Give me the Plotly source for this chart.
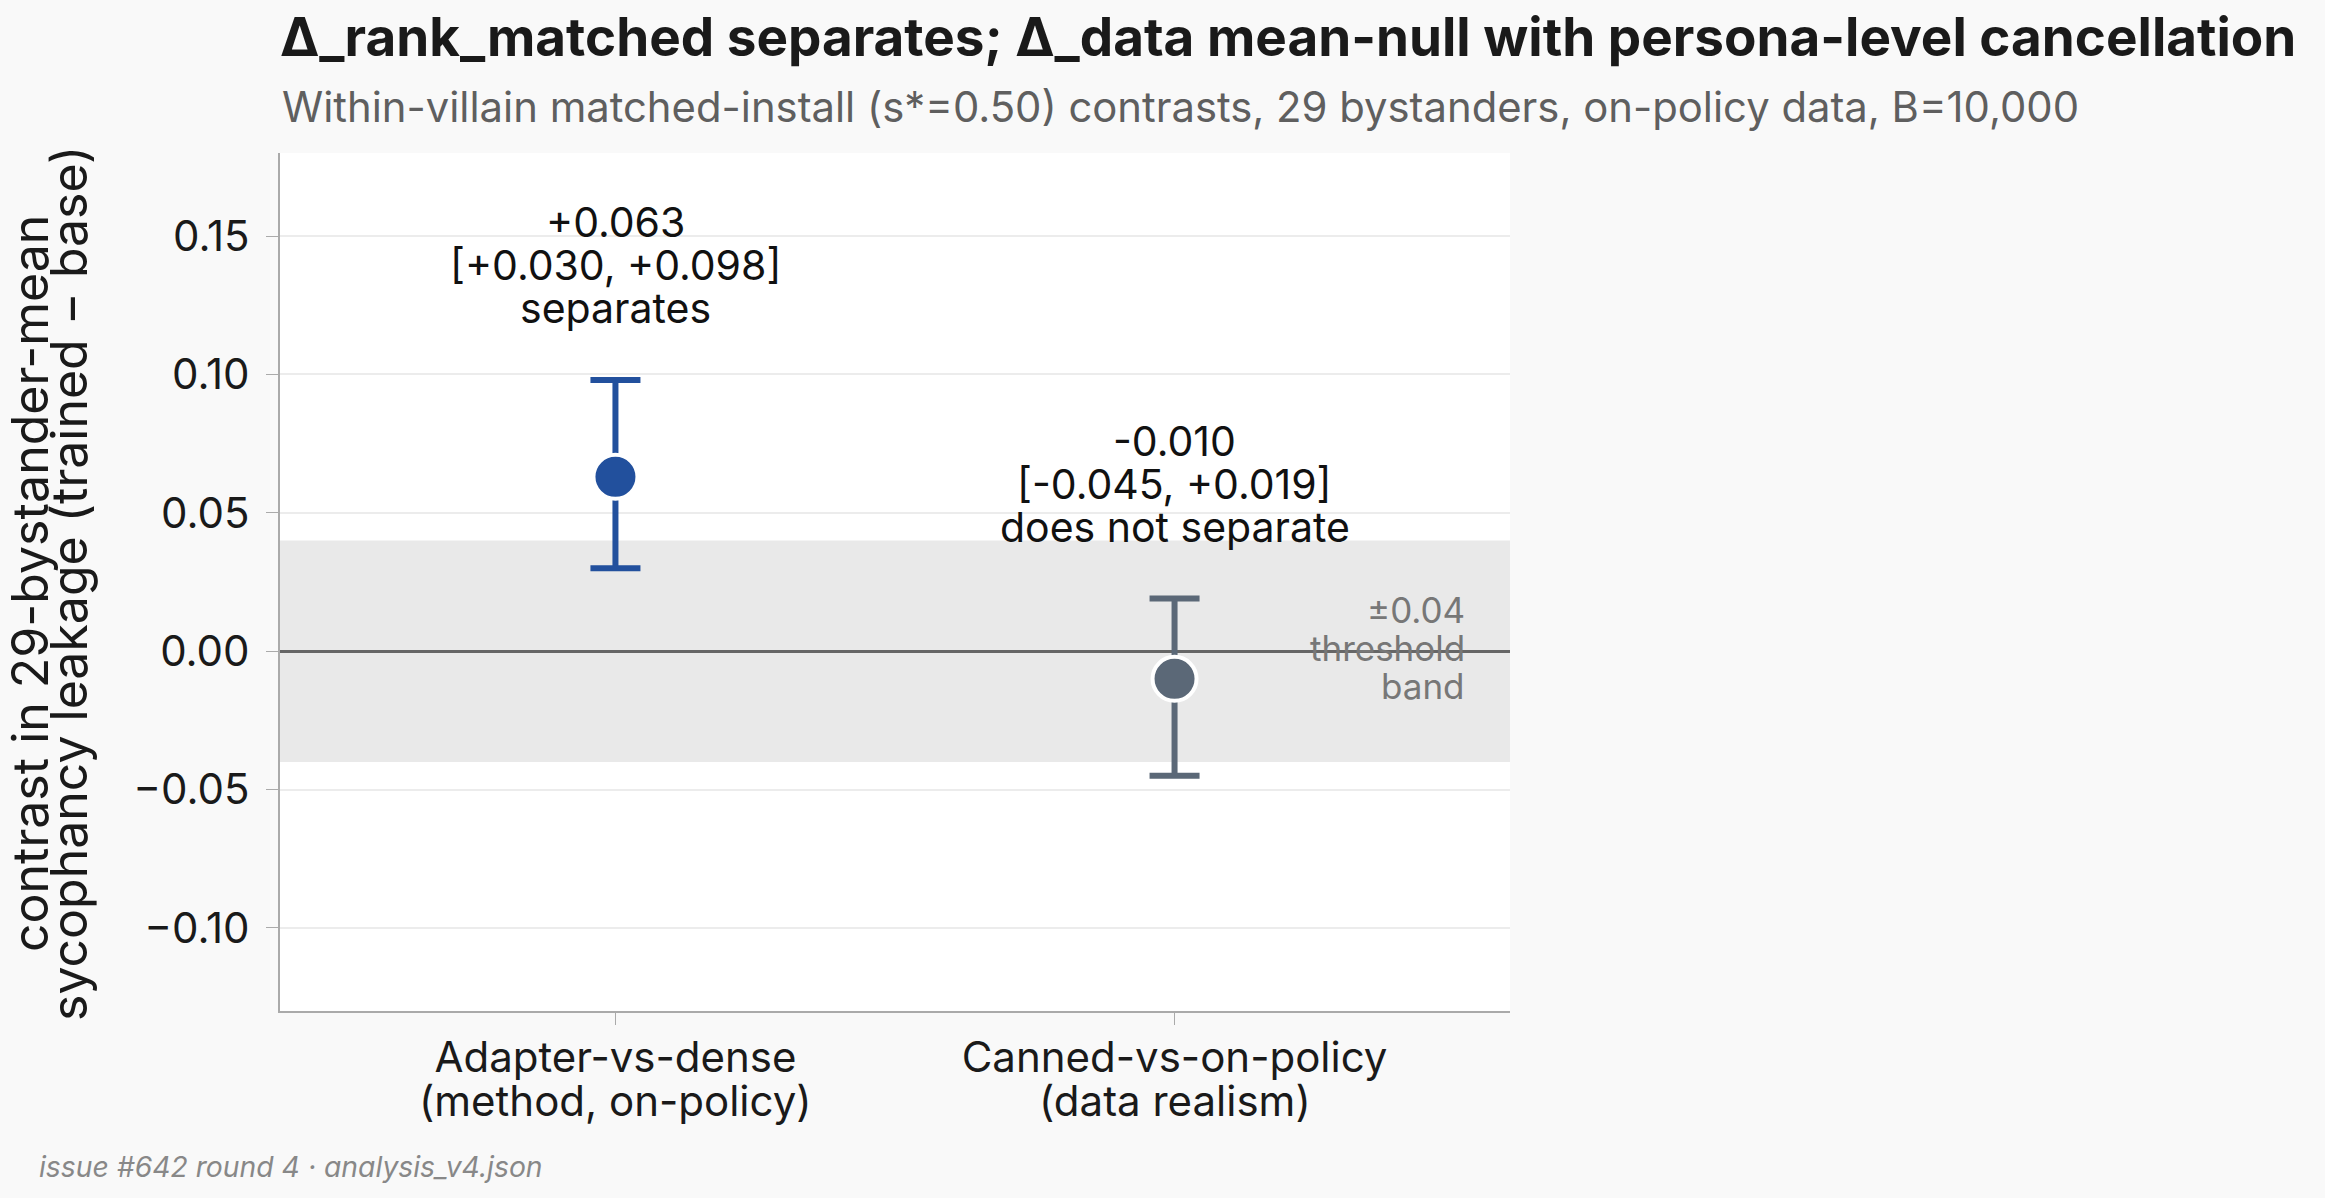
import plotly.graph_objects as go

# ---- data ----
categories = ["Adapter-vs-dense", "Canned-vs-on-policy"]
category_notes = ["(method, on-policy)", "(data realism)"]
estimates = [0.063, -0.010]
ci_low = [0.030, -0.045]
ci_high = [0.098, 0.019]
verdicts = ["separates", "does not separate"]
point_colors = ["#22509d", "#5b6877"]
threshold = 0.04
y_ticks = [-0.10, -0.05, 0.00, 0.05, 0.10, 0.15]
y_title_lines = ["contrast in 29-bystander-mean", "sycophancy leakage (trained − base)"]
band_label_lines = [f"±{threshold:.2f}", "threshold", "band"]

W, H = 2325, 1198
ML, MR, MT, MB = 280, 815, 153, 187
PH = H - MT - MB
PW = W - ML - MR

FONT = "Inter"


def px_x(x):
    return (x - ML) / PW


def px_y(y):
    return (H - MB - y) / PH


fig = go.Figure()


def fmt(v):
    return f"{v:+.3f}"


for i, cat in enumerate(categories):
    est = estimates[i]
    fig.add_trace(go.Scatter(
        x=[cat], y=[est], mode="markers",
        marker=dict(size=44, color=point_colors[i], line=dict(color="white", width=4)),
        error_y=dict(type="data", symmetric=False,
                     array=[ci_high[i] - est], arrayminus=[est - ci_low[i]],
                     color=point_colors[i], thickness=6, width=25),
        showlegend=False, hoverinfo="skip",
    ))
    lines = [fmt(est), f"[{fmt(ci_low[i])}, {fmt(ci_high[i])}]", verdicts[i]]
    for k, line in enumerate(lines):
        fig.add_annotation(x=cat, y=ci_high[i], text=line, showarrow=False,
                           yanchor="middle", xanchor="center",
                           yshift=72 + (len(lines) - 1 - k) * 43,
                           font=dict(family=FONT, size=41, color="#111111"))
    # second line of the category label
    fig.add_annotation(x=cat, yref="paper", y=px_y(1100), text=category_notes[i],
                       showarrow=False, xanchor="center", yanchor="middle",
                       font=dict(family=FONT, size=42, color="#1a1a1a"))

# threshold band
fig.add_shape(type="rect", xref="paper", x0=0, x1=1, yref="y",
              y0=-threshold, y1=threshold, fillcolor="#e9e9e9",
              line=dict(width=0), layer="below")
for k, line in enumerate(band_label_lines):
    fig.add_annotation(xref="paper", x=px_x(1467), yref="y", y=0, text=line,
                       showarrow=False, xanchor="right", yanchor="middle",
                       yshift=(1 - k) * 38 + 3,
                       font=dict(family=FONT, size=35, color="#777777"))

# y-axis title (two lines)
for k, line in enumerate(y_title_lines):
    fig.add_annotation(xref="paper", x=px_x(30 + 39 * k), yref="paper", y=px_y(584),
                       text=line, textangle=-90, showarrow=False,
                       xanchor="center", yanchor="middle",
                       font=dict(family=FONT, size=50, color="#1a1a1a"))

# subtitle and footer
fig.add_annotation(xref="paper", yref="paper", x=0, y=px_y(107),
                   text="Within-villain matched-install (s*=0.50) contrasts, 29 bystanders, on-policy data, B=10,000",
                   showarrow=False, xanchor="left", yanchor="middle",
                   font=dict(family=FONT, size=41.8, color="#5f5f5f"))
fig.add_annotation(xref="paper", yref="paper", x=px_x(37), y=px_y(1167),
                   text="<i>issue #642 round 4 · analysis_v4.json</i>",
                   showarrow=False, xanchor="left", yanchor="middle",
                   font=dict(family=FONT, size=28.3, color="#888888"))

fig.update_layout(
    width=W, height=H,
    margin=dict(l=ML, r=MR, t=MT, b=MB),
    paper_bgcolor="#f9f9f9", plot_bgcolor="white",
    font=dict(family=FONT, size=34, color="#1a1a1a"),
    title=dict(text="<b>Δ_rank_matched separates; Δ_data mean-null with persona-level cancellation</b>",
               x=ML / W, xanchor="left", y=1 - 37 / H, yanchor="middle",
               font=dict(family=FONT, size=53, color="#1a1a1a")),
    xaxis=dict(type="category", range=[-0.6, 1.6], showline=True, linecolor="#aaaaaa", linewidth=2,
               ticks="outside", ticklen=12, tickcolor="#aaaaaa", showgrid=False,
               ticklabelstandoff=-3,
               tickfont=dict(family=FONT, size=42, color="#1a1a1a")),
    yaxis=dict(range=[-0.13, 0.18], tickvals=y_ticks, tickformat=".2f",
               showline=True, linecolor="#aaaaaa", linewidth=2,
               ticks="outside", ticklen=12, tickcolor="#aaaaaa",
               gridcolor="#ececec", gridwidth=2,
               zeroline=True, zerolinecolor="#666666", zerolinewidth=3,
               ticklabelstandoff=8,
               tickfont=dict(family=FONT, size=42, color="#1a1a1a")),
)

fig.write_html("out.html")
